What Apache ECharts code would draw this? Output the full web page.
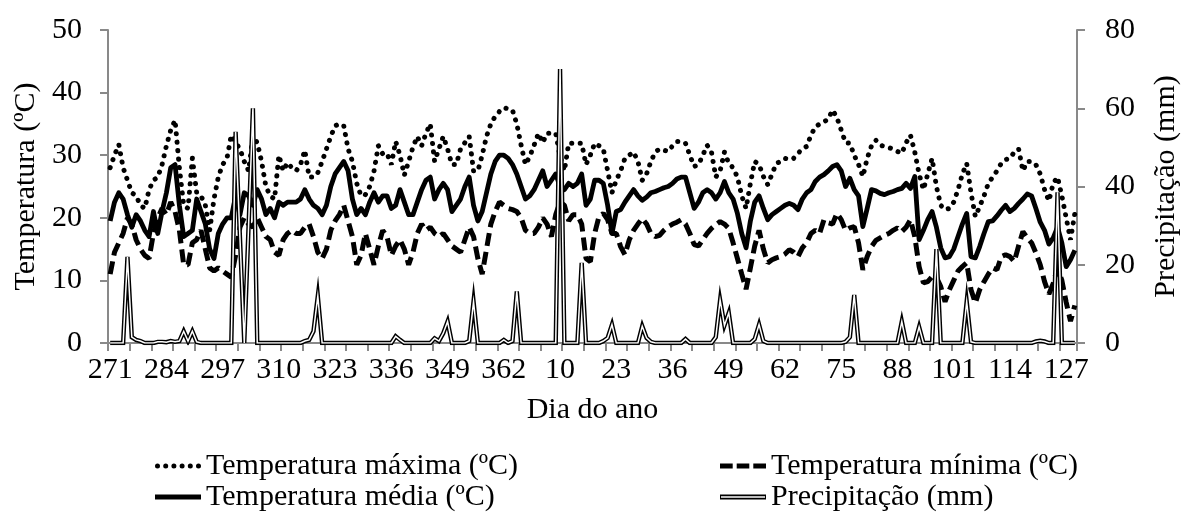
<!DOCTYPE html>
<html><head><meta charset="utf-8">
<script src="https://cdn.jsdelivr.net/npm/echarts@6/dist/echarts.min.js"></script>
<style>html,body{margin:0;padding:0;background:#fff}#c{width:1182px;height:525px}</style>
</head><body><div id="c"></div>
<script>
const days = [
271,272,273,274,275,276,277,278,279,280,281,282,283,284,285,286,287,288,289,290,
291,292,293,294,295,296,297,298,299,300,301,302,303,304,305,306,307,308,309,310,
311,312,313,314,315,316,317,318,319,320,321,322,323,324,325,326,327,328,329,330,
331,332,333,334,335,336,337,338,339,340,341,342,343,344,345,346,347,348,349,350,
351,352,353,354,355,356,357,358,359,360,361,362,363,364,365,
1,2,3,4,5,6,7,8,9,10,11,12,13,14,15,16,17,18,19,20,
21,22,23,24,25,26,27,28,29,30,31,32,33,34,35,36,37,38,39,40,
41,42,43,44,45,46,47,48,49,50,51,52,53,54,55,56,57,58,59,60,
61,62,63,64,65,66,67,68,69,70,71,72,73,74,75,76,77,78,79,80,
81,82,83,84,85,86,87,88,89,90,91,92,93,94,95,96,97,98,99,100,
101,102,103,104,105,106,107,108,109,110,111,112,113,114,115,116,117,118,119,120,
121,122,123,124,125,126,127,128,129
];
const tMax = [
28,30,31.7,28,26,24,23.5,22,21.5,24.5,
26,26.5,28.5,31.5,34,35.6,28,22,21.5,29.5,
24,23.5,22,18,23,26.5,28.5,29.5,33.2,32,
31,29,27.5,33,32,29,25,23.5,23,30,
27.5,28.8,28,27.5,28.5,30.8,26.5,26.5,27.2,29,
31,33,34.7,35,34.7,31,29,25.5,23.5,23.7,
25,27.5,31.5,30.2,30.3,28.5,32.2,30,26.8,29,
31.3,33,31.5,33.5,35,29,31,33,31,28.5,
28.5,31,32,33,27.5,27.5,30,33,35,36.2,
37,37.6,37.4,37.2,35,31.6,28.5,29.8,31.6,33.5,
32,33.5,33.5,33.5,29.8,27.5,31.9,31.9,31.9,31.9,
28.5,30,31.9,31.5,31,27.5,24,26,27.5,29.5,
30,30.5,29,26,27,29,30.5,31,30.8,30.6,
31.5,32.2,32.2,31.9,30,28.2,28.5,30,31.6,30.5,
26.5,27.5,30.5,28.7,28,26.5,23.5,21.5,25.5,29,
28.5,26.6,25.3,27,28.7,29,29.5,29.3,29.5,30.3,
31,31.4,33.2,34.5,35,35.3,35.8,37.2,36,34,
32,31.9,30,28.5,26.6,29.5,31.5,32.4,31.6,31.4,
31.2,31,30.6,30.3,32,33.2,30.5,27,24.5,27,
29.5,25,22,21.3,21.5,22.5,24.5,27,28.7,24,
20.2,21.8,23.5,25.5,26.5,27.5,28.7,29.3,29.5,30.5,
31,27.5,29,29,28.5,27,24.5,22.7,25.5,26.5,
23.5,20,16.5,20.7
];
const tMean = [
19.5,22.5,24,23,20.5,18.5,20.5,19.5,18,17,
21,17.5,21,24,28,28.5,22,17,17.5,18,
23,21,19,15,13.5,17.5,19,20,20,23.5,
20.5,24,23.5,22,24.5,23,20.5,21.5,20,22.5,
22,22.5,22.5,22.5,23,24.5,23,22,21.5,20.5,
22,25,27,28,29,27.5,23,20.5,21.5,20.5,
22.5,24,22.5,23.5,23.5,21.5,22,24.5,22.5,20.5,
20.5,22.5,24.5,26,26.5,23,24.5,25.5,24.5,21,
22,23,25,26.5,22,19.5,21,24,27,29,
30,30,29.5,28.5,27,25,23,23.5,24.5,26,
27.5,25,26,27,25,24.5,25.5,25,25.5,27,
22,23,26,26,25.5,22,17.5,21,21.3,22.5,
23.5,24.5,23.5,22.8,23.3,24,24.2,24.5,24.8,25,
25.5,26.2,26.5,26.5,24,21.5,22.5,24,24.5,24,
23,24,25.8,24,23,20.7,17.5,15.2,19.5,22.5,
23.5,21.5,19.7,20.5,21,21.5,22,22.3,22,21.3,
23,24,24.5,25.8,26.5,26.9,27.5,28.2,28.5,27.5,
25,26.3,24.5,23.5,18.6,21.5,24.5,24.3,23.9,23.7,
24,24.2,24.5,24.7,25.5,24.7,26.6,16.5,18,19.7,
21,18.5,15.2,13.6,13.8,15,17,19,20.7,13.8,
13.6,15.4,17.5,19.4,19.5,20.3,21.2,22,21,21.5,
22.3,23,23.8,23.5,21.5,19.3,18,15.8,16.8,18.5,
16,12.2,13.3,14.8
];
const tMin = [
11,14.5,16,17.5,20,19,16.5,15,14,13.5,
17.5,20,21.5,20.5,22.5,21,18,12.5,12.5,16,
16.5,18,15,12,11.5,12,11.5,11,10.5,14,
18.5,20,19,18.5,20,18.5,17,16.5,14.5,14,
16.5,17.5,18,17.5,17.5,18.5,19,17,14.5,13.5,
15,18,19.5,20.5,22,19.5,17,12.5,14,17.5,
15,12.5,15.5,18,17,14,15.5,16.5,15,12.5,
14.5,17.5,19,18,18.5,17.5,17,17.5,16.5,15.5,
15,14.5,16.5,18.5,17,13.5,11,15,19,21,
22.5,22,21.5,21.3,21,20,18,17.5,17.5,18.5,
20,19,17,20.5,22.5,22,19.5,20.5,20.5,19,
13.5,13,17.5,20.2,20.7,19.7,17.5,17.5,15.4,14.1,
16.5,18,19,19.9,19,17.5,17,17.2,18,18.6,
19,19.3,19.7,19,17.5,15.7,15.5,16.5,17.5,18.3,
18.9,19.4,19,18.3,16,13.5,11,8.6,12,15.5,
18,15,12.8,13.3,13.6,13.8,14.2,14.9,14.5,13.8,
15.2,16,17.5,18,17.5,19.7,19.2,19,20.7,19.7,
18,18.4,18.6,16,11.7,13.8,15.4,16.4,16.8,17.2,
17.5,18,18.4,17.8,18.5,19.7,17,12.2,9.6,9.8,
10.6,10.5,9,6.6,8.5,10,11.5,12.2,12.8,8.5,
6.4,8.5,9.8,11,12,11.7,13.8,14.1,13.8,13,
15.5,17.8,16.8,16,14.4,12.5,9.8,7.8,9.5,12,
10,6.5,3.5,6
];
const precip = [
0,0,0,0,22,1.5,0.8,0.5,0,0,
0,0.3,0.3,0.2,0.5,0.3,0.5,3,0.5,3,
0.3,0,0,0,0,0,0,0,0,54,
27,0,30,60,0,0,0,0,0,0,
0,0,0,0,0,0.5,0.8,3,12,0,
0,0,0,0,0,0,0,0,0,0,
0,0,0,0,0,0,1.7,0.8,0,0,
0,0,0,0,0,1.2,0.5,2.5,5.5,0,
0,0,0,0.5,10.6,0,0,0,0,0,
0,0.8,0,0.5,13.2,0,0,0,0,0,
0,0,0,0,70,0,0,0,0,20.5,
0,0,0,0,0.5,1.3,4.7,0,0,0,
0,0,0,4.3,1.3,0.3,0,0,0,0,
0,0,0,1,0,0,0,0,0,0,
1.5,11,4.5,7.7,0,0,0,0,0,1,
4.7,0.5,0,0,0,0,0,0,0,0,
0,0,0,0,0,0,0,0,0,0,
0.3,1.5,12.3,0,0,0,0,0,0,0,
0,0,0,5.5,0,0,0,4.1,0,0,
0,24,0,0,0,0,0,0,10.6,0.3,
0,0,0,0,0,0,0,0,0,0,
0,0,0,0,0.4,0.6,0.4,0,0,38.5,
0,0,0,0
];
const names = ['Temperatura máxima (ºC)','Temperatura mínima (ºC)','Temperatura média (ºC)','Precipitação (mm)'];

const FONT = '"Liberation Serif", "Times New Roman", serif';
const AX = '#898989';
const txt = {fontFamily: FONT, fontSize: 30, color: '#000'};

// legend icon shapes (46 x 5 boxes)
function dotsIcon() {
  let p = 'path://';
  for (let k = 0; k < 6; k++) {
    const x0 = k * 8.2;
    p += 'M' + x0 + ',2.5a2.5,2.5 0 1,0 5,0a2.5,2.5 0 1,0 -5,0Z';
  }
  return p;
}
const ICON_MAX = dotsIcon();
const ICON_MIN = 'path://M0,0H12.7V5H0Z M16.7,0H29.3V5H16.7Z M33.3,0H46V5H33.3Z';
const ICON_MEAN = 'path://M0,0H46V5H0Z';
const ICON_PREC = 'path://M0,0H46V5H0Z M1,1.7V3.3H45V1.7Z';

function legendItem(name, icon) {
  return {name: name, icon: icon, itemStyle: {color: '#000', borderWidth: 0}};
}
function legendBox(left, top, items) {
  return {
    left: left, top: top, orient: 'vertical', padding: 0,
    itemWidth: 46, itemHeight: 5, itemGap: 1, symbolKeepAspect: false,
    selectedMode: false, textStyle: Object.assign({lineHeight: 30, padding: [0, 0, 0, 0]}, txt),
    data: items
  };
}

const chart = echarts.init(document.getElementById('c'), null, {renderer: 'canvas'});
chart.setOption({
  animation: false,
  backgroundColor: '#fff',
  grid: {left: 108, right: 105, top: 30, bottom: 182, containLabel: false, outerBoundsMode: 'none'},
  xAxis: {
    type: 'category', data: days.map(String), boundaryGap: true,
    name: 'Dia do ano', nameLocation: 'middle', nameGap: 52, nameTextStyle: txt,
    axisLine: {show: true, lineStyle: {color: AX, width: 2}},
    axisTick: {show: true, interval: 4, length: 8, lineStyle: {color: AX, width: 2}},
    axisLabel: Object.assign({interval: 12, margin: 12, hideOverlap: false}, txt),
    splitLine: {show: false}
  },
  yAxis: [{
    type: 'value', min: 0, max: 50, interval: 10, position: 'left',
    name: 'Temperatura (ºC)', nameLocation: 'middle', nameRotate: 90, nameGap: 64, nameTextStyle: txt,
    axisLine: {show: true, lineStyle: {color: AX, width: 2}},
    axisTick: {show: true, length: 8, lineStyle: {color: AX, width: 2}},
    axisLabel: Object.assign({margin: 26}, txt),
    splitLine: {show: false}
  }, {
    type: 'value', min: 0, max: 80, interval: 20, position: 'right',
    name: 'Precipitação (mm)', nameLocation: 'middle', nameRotate: 90, nameGap: 74, nameTextStyle: txt,
    axisLine: {show: true, lineStyle: {color: AX, width: 2}},
    axisTick: {show: true, length: 8, lineStyle: {color: AX, width: 2}},
    axisLabel: Object.assign({margin: 28}, txt),
    splitLine: {show: false}
  }],
  legend: [
    legendBox(155, 451, [legendItem(names[0], ICON_MAX), legendItem(names[2], ICON_MEAN)]),
    legendBox(720, 451, [legendItem(names[1], ICON_MIN), legendItem(names[3], ICON_PREC)])
  ],
  series: [{
    name: names[0], type: 'line', data: tMax, yAxisIndex: 0, symbol: 'none', z: 2,
    lineStyle: {color: '#000', width: 5, type: [0.1, 8.4], cap: 'round'}, itemStyle: {color: '#000'}
  }, {
    name: names[1], type: 'line', data: tMin, yAxisIndex: 0, symbol: 'none', z: 2,
    lineStyle: {color: '#000', width: 5, type: [13, 6], cap: 'butt'}, itemStyle: {color: '#000'}
  }, {
    name: names[2], type: 'line', data: tMean, yAxisIndex: 0, symbol: 'none', z: 2,
    lineStyle: {color: '#000', width: 4.8, type: 'solid', join: 'round'}, itemStyle: {color: '#000'}
  }, {
    name: names[3], type: 'line', data: precip, yAxisIndex: 1, symbol: 'none', z: 3,
    lineStyle: {color: '#000', width: 4.4, join: 'miter'}, itemStyle: {color: '#000'}
  }, {
    name: 'precip-inner', type: 'line', data: precip, yAxisIndex: 1, symbol: 'none', z: 4,
    lineStyle: {color: '#fff', width: 1.5, join: 'miter'}, itemStyle: {color: '#fff'}, silent: true
  }]
});
</script>
</body></html>
